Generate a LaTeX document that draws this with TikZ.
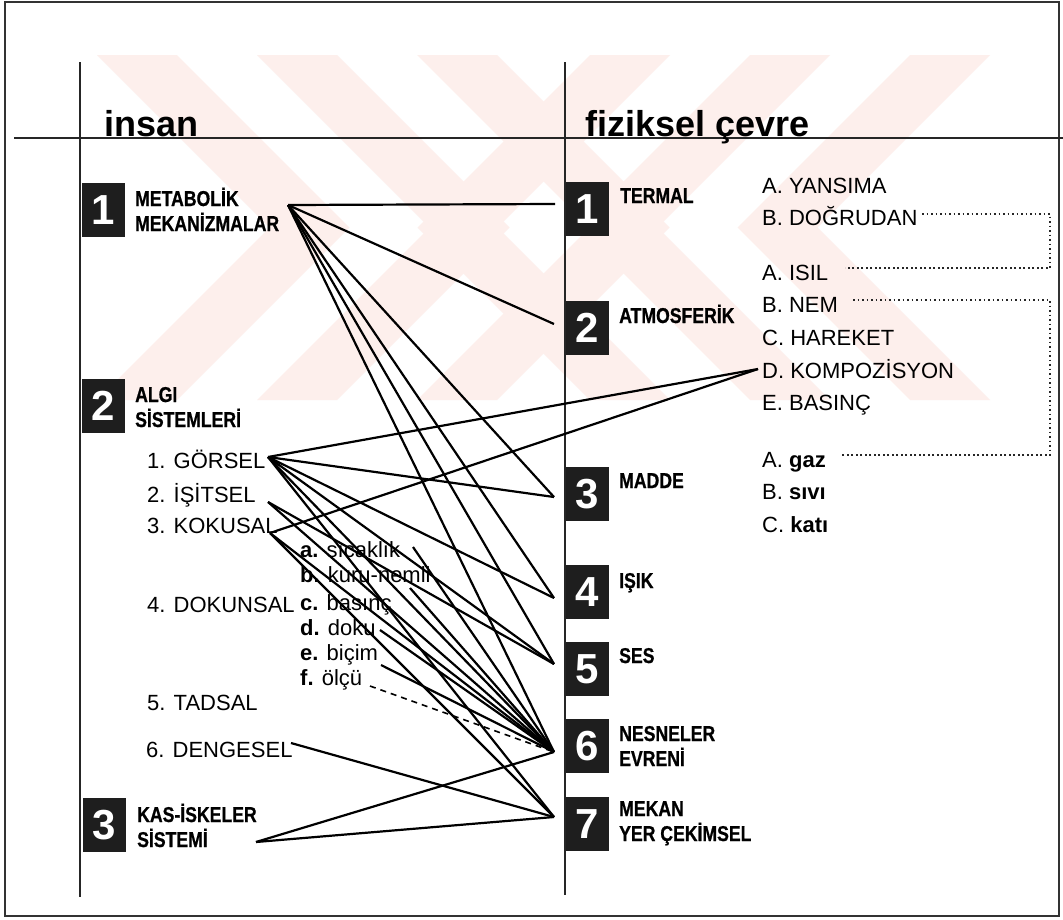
\documentclass[tikz,border=0pt]{standalone}
\usepackage{fontspec}
\setmainfont{Liberation Sans}
\newfontfamily\condfont[FakeStretch=0.82,BoldFeatures={FakeBold=0.8}]{Liberation Sans}
\definecolor{wmpink}{HTML}{FDEFEC}
\definecolor{boxfill}{HTML}{1E1E1E}
\begin{document}
\begin{tikzpicture}[x=1pt,y=-1pt,
  numbox/.style={fill=boxfill,minimum width=43pt,minimum height=54pt,inner sep=0pt,text=white,font=\bfseries\fontsize{42}{42}\selectfont},
  boxlab/.style={anchor=base west,inner sep=0pt,align=left,font=\condfont\bfseries\fontsize{21.5}{25}\selectfont},
  item/.style={anchor=base west,inner sep=0pt,font=\fontsize{22}{26}\selectfont},
  title/.style={anchor=base west,inner sep=0pt,font=\bfseries\fontsize{36}{40}\selectfont},
  axis/.style={line width=2pt,black!85},
  conn/.style={line width=2.2pt,black},
  dotline/.style={line width=1.7pt,dash pattern=on 1.7pt off 2.8pt,black!85},
  dashline/.style={line width=1.6pt,dash pattern=on 6pt off 5pt,black}]
\useasboundingbox (0,0) rectangle (1063,919);
\fill[white] (0,0) rectangle (1063,919);
% watermark
\foreach \xo in {97,257,417}{
  \fill[wmpink] (\xo,55) -- (\xo+80,55) -- (\xo+252.5,227.5) -- (\xo+80,400) -- (\xo,400) -- (\xo+172.5,227.5) -- cycle;}
\foreach \xo in {990,830,670}{
  \fill[wmpink] (\xo,55) -- (\xo-80,55) -- (\xo-252.5,227.5) -- (\xo-80,400) -- (\xo,400) -- (\xo-172.5,227.5) -- cycle;}
% frame and axes
\draw[line width=1.6pt,black!80] (5,2) rectangle (1059,916);
\draw[axis] (14,138) -- (1063,138);
\draw[axis] (80,62) -- (80,897);
\draw[axis] (565,62) -- (565,895);
% titles
\node[title] (insan) at (104,136) {insan};
\node[title] (fiz) at (585,136) {fiziksel çevre};
% left boxes
\node[numbox] (L1) at (103,210) {1};
\node[numbox] (L2) at (103,406) {2};
\node[numbox] (L3) at (104,825) {3};
\node[boxlab] (l1t) at (135,231) {METABOLİK\\MEKANİZMALAR};
\node[boxlab] (l2t) at (135,427) {ALGI\\SİSTEMLERİ};
\node[boxlab] (l3t) at (137,847) {KAS-İSKELER\\SİSTEMİ};
% right boxes
\node[numbox] (R1) at (587,209) {1};
\node[numbox] (R2) at (587,328) {2};
\node[numbox] (R3) at (587,494) {3};
\node[numbox] (R4) at (587,592) {4};
\node[numbox] (R5) at (587,669) {5};
\node[numbox] (R6) at (587,746) {6};
\node[numbox] (R7) at (587,824) {7};
\node[boxlab] (r1t) at (620,203) {TERMAL};
\node[boxlab] (r2t) at (619,323) {ATMOSFERİK};
\node[boxlab] (r3t) at (619,488) {MADDE};
\node[boxlab] (r4t) at (619,588) {IŞIK};
\node[boxlab] (r5t) at (619,663) {SES};
\node[boxlab] (r6t) at (619,766) {NESNELER\\EVRENİ};
\node[boxlab] (r7t) at (619,841) {MEKAN\\YER ÇEKİMSEL};
% left items
\node[item] (gor) at (147,468) {1. GÖRSEL};
\node[item] (isi) at (147,502) {2. İŞİTSEL};
\node[item] (kok) at (147,533) {3. KOKUSAL};
\node[item] (dok) at (147,612) {4. DOKUNSAL};
\node[item] (tad) at (147,710) {5. TADSAL};
\node[item] (den) at (146,757) {6. DENGESEL};
\node[item] (sa) at (300,557) {\textbf{a.} sıcaklık};
\node[item] (sb) at (300,582) {\textbf{b.} kuru-nemli};
\node[item] (sc) at (300,610) {\textbf{c.} basınç};
\node[item] (sd) at (300,635) {\textbf{d.} doku};
\node[item] (se) at (300,660) {\textbf{e.} biçim};
\node[item] (sf) at (300,685) {\textbf{f.} ölçü};
% right items
\node[item] (ya) at (762,193) {A. YANSIMA};
\node[item] (do) at (762,225) {B. DOĞRUDAN};
\node[item] (is) at (762,280) {A. ISIL};
\node[item] (ne) at (762,312) {B. NEM};
\node[item] (ha) at (762,345) {C. HAREKET};
\node[item] (ko) at (762,378) {D. KOMPOZİSYON};
\node[item] (ba) at (762,410) {E. BASINÇ};
\node[item] (gz) at (762,467) {A. \textbf{gaz}};
\node[item] (sv) at (762,499) {B. \textbf{sıvı}};
\node[item] (kt) at (762,532) {C. \textbf{katı}};
% dotted brackets
\coordinate (dogE) at (922,214);
\coordinate (isE) at (845,268);
\coordinate (c1a) at (1050,214);
\coordinate (c1b) at (1050,268);
\coordinate (neE) at (853,300);
\coordinate (gzE) at (842,455);
\coordinate (c2a) at (1050,300);
\coordinate (c2b) at (1050,455);
\draw[dotline] (dogE) -- (c1a) -- (c1b) -- (isE);
\draw[dotline] (neE) -- (c2a) -- (c2b) -- (gzE);
% connector end points
\coordinate (m) at (288,205);
\coordinate (g) at (268,457);
\coordinate (i) at (268,502);
\coordinate (k) at (270,533);
\coordinate (a) at (413,547);
\coordinate (b) at (410,588);
\coordinate (d) at (380,630);
\coordinate (e) at (381,665);
\coordinate (f) at (370,686);
\coordinate (dg) at (291,743);
\coordinate (ks) at (256,842);
\coordinate (t1) at (555,204);
\coordinate (t2) at (554,324);
\coordinate (t3) at (554,497);
\coordinate (t4) at (554,598);
\coordinate (t5) at (554,664);
\coordinate (t6) at (554,752);
\coordinate (t7) at (554,817);
\coordinate (dk) at (758,369);
% connectors
\foreach \t in {t1,t2,t3,t4,t5,t6}{\draw[conn] (m) -- (\t);}
\foreach \t in {dk,t3,t4,t5,t6,t7}{\draw[conn] (g) -- (\t);}
\foreach \t in {t5,t6}{\draw[conn] (i) -- (\t);}
\foreach \t in {dk,t6,t7}{\draw[conn] (k) -- (\t);}
\foreach \s in {a,b,d,e}{\draw[conn] (\s) -- (t6);}
\draw[dashline] (f) -- (t6);
\draw[conn] (dg) -- (t7);
\draw[conn] (ks) -- (t6);
\draw[conn] (ks) -- (t7);
\end{tikzpicture}
\end{document}
